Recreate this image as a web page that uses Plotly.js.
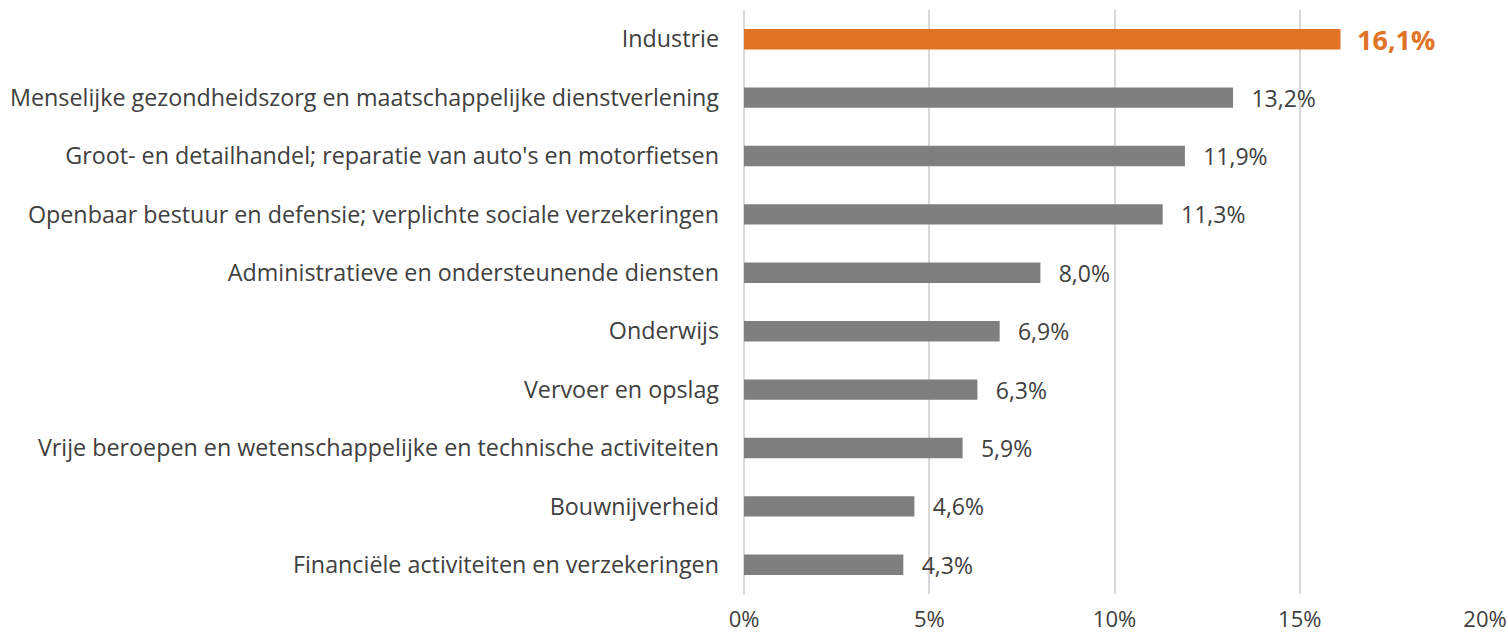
<!DOCTYPE html>
<html>
<head>
<meta charset="utf-8">
<script src="https://cdn.plot.ly/plotly-3.0.1.min.js"></script>
<style>html,body{margin:0;padding:0;background:#fff}#chart{width:1508px;height:633px}</style>
</head>
<body>
<div id="chart"></div>
<script>
const categories = [
  "Industrie",
  "Menselijke gezondheidszorg en maatschappelijke dienstverlening",
  "Groot- en detailhandel; reparatie van auto's en motorfietsen",
  "Openbaar bestuur en defensie; verplichte sociale verzekeringen",
  "Administratieve en ondersteunende diensten",
  "Onderwijs",
  "Vervoer en opslag",
  "Vrije beroepen en wetenschappelijke en technische activiteiten",
  "Bouwnijverheid",
  "Financiële activiteiten en verzekeringen"
];
const values = [16.1, 13.2, 11.9, 11.3, 8.0, 6.9, 6.3, 5.9, 4.6, 4.3];
const highlighted = ["Industrie"];
const tickValues = [0, 5, 10, 15, 20];
const tickLabels = ["0%", "5%", "10%", "15%", "20%"];

const ORANGE = "#E07325", GRAY = "#7F7F7F", TEXT = "#404040";
const isHi = categories.map(c => highlighted.includes(c));
const labels = values.map((v, i) => {
  const s = v.toFixed(1).replace(".", ",") + "%";
  return isHi[i] ? "\u2002<b>" + s + "</b>" : "\u2002\u2009" + s;
});

Plotly.newPlot("chart", [{
  type: "bar",
  orientation: "h",
  y: categories,
  x: values,
  width: 0.35,
  marker: { color: isHi.map(h => h ? ORANGE : GRAY) },
  text: labels,
  textposition: "outside",
  constraintext: "none",
  cliponaxis: false,
  textfont: {
    family: "Open Sans, sans-serif",
    color: isHi.map(h => h ? ORANGE : TEXT),
    size: isHi.map(h => h ? 27 : 23)
  },
  hoverinfo: "none"
}], {
  width: 1508, height: 633,
  margin: { l: 744, r: 23, t: 10, b: 39, pad: 0 },
  paper_bgcolor: "#fff", plot_bgcolor: "#fff",
  showlegend: false,
  font: { family: "Open Sans, sans-serif", color: TEXT, size: 23 },
  xaxis: {
    range: [0, 20],
    tickvals: tickValues,
    ticktext: tickLabels,
    showgrid: true, gridcolor: "#D9D9D9", gridwidth: 2,
    zeroline: true, zerolinecolor: "#D9D9D9", zerolinewidth: 2,
    showline: false, ticks: "", ticklabelstandoff: 10,
    tickfont: { size: 22, color: TEXT }
  },
  yaxis: {
    autorange: "reversed",
    showgrid: false, zeroline: false, showline: false,
    ticks: "", ticklabelstandoff: 24,
    tickfont: { size: 23.3, color: TEXT }
  }
}, { displayModeBar: false, staticPlot: true });
</script>
</body>
</html>
